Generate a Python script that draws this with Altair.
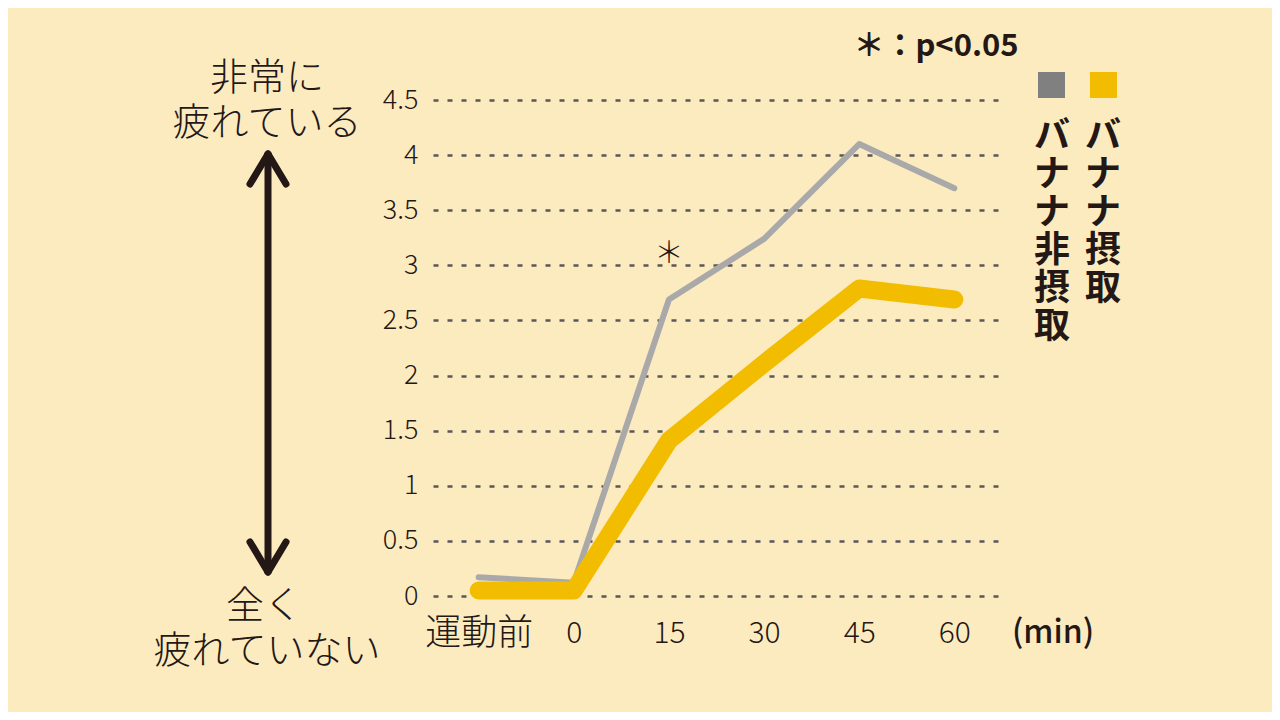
import altair as alt
import pandas as pd

# ---- data ----
time_labels = ["運動前", "0", "15", "30", "45", "60"]
no_banana = [0.17, 0.12, 2.69, 3.24, 4.10, 3.70]   # バナナ非摂取
banana = [0.05, 0.05, 1.41, 2.11, 2.79, 2.69]       # バナナ摂取
y_ticks = [0, 0.5, 1, 1.5, 2, 2.5, 3, 3.5, 4, 4.5]
series_names = ["バナナ非摂取", "バナナ摂取"]

df_gray = pd.DataFrame({"time": time_labels, "value": no_banana})
df_yel = pd.DataFrame({"time": time_labels, "value": banana})
df_sig = pd.DataFrame({"time": ["15"], "value": [3.1], "label": ["＊"]})

FONT = "Noto Sans CJK JP"
INK = "#231815"
BG = "#FDEBC0"
GRAY = "#A9A9A9"
GRAY_SQ = "#808080"
YEL = "#F2BD00"

W, H = 567, 496

xscale = alt.Scale(type="point", domain=time_labels, padding=0.48)
yscale = alt.Scale(domain=[0, 4.5], nice=False, zero=True)

xenc = alt.X("time:O", scale=xscale, sort=time_labels,
             axis=alt.Axis(title=None, labelAngle=0, ticks=False, domain=False, grid=False,
                           labelFontSize={"condition": {"test": "datum.value == '運動前'", "value": 36},
                                          "value": 30},
                           labelFont=FONT, labelColor=INK,
                           labelFontWeight=300, labelPadding=37, labelBaseline="middle"))
yenc = alt.Y("value:Q", scale=yscale,
             axis=alt.Axis(title=None, values=y_ticks, format="~f", ticks=False, domain=False,
                           grid=True, gridDash=[5, 9], gridColor="#595757", gridWidth=2.5,
                           labelFontSize=27, labelFont=FONT, labelColor=INK,
                           labelFontWeight=300, labelPadding=15))

gray_line = alt.Chart(df_gray).mark_line(
    color=GRAY, strokeWidth=6, strokeCap="round", strokeJoin="round"
).encode(x=xenc, y=yenc)

yel_line = alt.Chart(df_yel).mark_line(
    color=YEL, strokeWidth=18, strokeCap="round", strokeJoin="round"
).encode(x=alt.X("time:O", scale=xscale, sort=time_labels), y=alt.Y("value:Q", scale=yscale))

sig = alt.Chart(df_sig).mark_text(
    font=FONT, fontSize=30, fontWeight=300, color=INK, baseline="middle"
).encode(x=alt.X("time:O", scale=xscale, sort=time_labels),
         y=alt.Y("value:Q", scale=yscale), text="label:N")

one = pd.DataFrame({"a": [0]})
# page -> plot coords: subtract (433, 100)
OX, OY = 433, 100


def txt(s, px, py, size, weight=400, align="center", baseline="middle"):
    return alt.Chart(one).mark_text(font=FONT, fontSize=size, fontWeight=weight, color=INK,
                                    align=align, baseline=baseline).encode(
        x=alt.value(px - OX), y=alt.value(py - OY), text=alt.value(s))


def seg(x1, y1, x2, y2, w=7):
    return alt.Chart(one).mark_rule(color=INK, strokeWidth=w, strokeCap="round").encode(
        x=alt.value(x1 - OX), y=alt.value(y1 - OY), x2=alt.value(x2 - OX), y2=alt.value(y2 - OY))


def sq(x1, y1, x2, y2, color):
    return alt.Chart(one).mark_rect(color=color).encode(
        x=alt.value(x1 - OX), y=alt.value(y1 - OY), x2=alt.value(x2 - OX), y2=alt.value(y2 - OY))


ax = 268
annotations = [
    txt("非常に", 267, 79, 38, weight=300),
    txt("疲れている", 267, 124, 38, weight=300),
    txt("全く", 264, 607, 38, weight=300),
    txt("疲れていない", 267, 652, 38, weight=300),
    seg(ax, 155, ax, 571),
    seg(ax, 154, ax - 18, 184),
    seg(ax, 154, ax + 18, 184),
    seg(ax, 572, ax - 18, 542),
    seg(ax, 572, ax + 18, 542),
    txt("＊：p<0.05", 936, 47, 31, weight=700),
    txt("(min)", 1053, 633, 32, weight=500),
    sq(1038, 72, 1065, 98, GRAY_SQ),
    sq(1090, 72, 1117, 98, YEL),
]

# vertical legend labels, one character per text mark
for name, cx in zip(series_names, [1052, 1103]):
    for i, ch in enumerate(name):
        annotations.append(txt(ch, cx, 137 + 38 * i, 36, weight=700))

chart = alt.layer(gray_line, yel_line, sig, *annotations).properties(
    width=W, height=H,
    autosize=alt.AutoSizeParams(type="none"),
    padding={"left": OX - 8, "top": OY - 8, "right": 1264 - (OX - 8) - W, "bottom": 704 - (OY - 8) - H},
    background=BG,
).configure_view(stroke=None)

chart.save("out.html", embed_options={"renderer": "svg", "actions": False})
